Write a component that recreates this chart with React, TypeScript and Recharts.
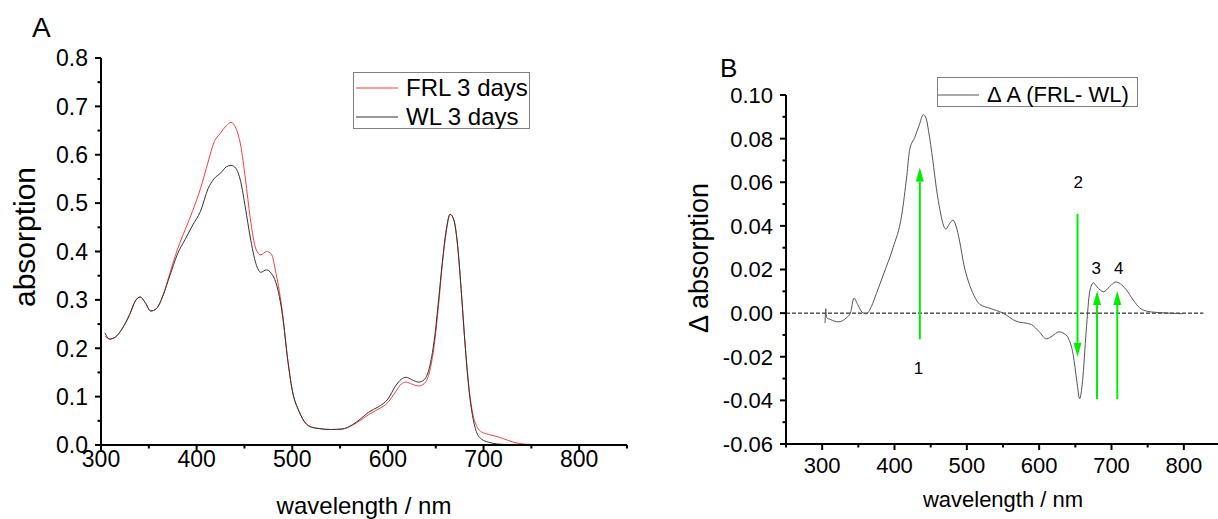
import { Legend, Line, LineChart, ReferenceDot, ReferenceLine, XAxis, YAxis } from "recharts";

const FONT = "'Liberation Sans', Arial, Helvetica, sans-serif";

// panel A: absorption spectra
const wavelengthA = [
  304, 309, 315, 322, 330, 336, 341, 346, 352, 358, 365, 372, 380, 388, 396, 404, 412, 418, 425, 431, 436,
  441, 446, 451, 456, 462, 467, 473, 478, 483, 490, 495, 500, 507, 514, 520, 528, 540, 552, 563, 572, 580,
  590, 600, 608, 614, 619, 625, 632, 638, 644, 649, 653, 657, 661, 665, 669, 673, 677, 681, 685, 689, 693,
  698, 705, 715, 725, 735, 750, 800,
];
const frl3 = [
  0.225, 0.219, 0.223, 0.24, 0.27, 0.298, 0.306, 0.295, 0.277, 0.282, 0.31, 0.355, 0.405, 0.445, 0.485,
  0.53, 0.585, 0.625, 0.645, 0.66, 0.667, 0.655, 0.62, 0.55, 0.47, 0.405, 0.393, 0.4, 0.395, 0.355, 0.27,
  0.18, 0.113, 0.07, 0.045, 0.037, 0.034, 0.032, 0.033, 0.041, 0.052, 0.063, 0.074, 0.088, 0.11, 0.126,
  0.13, 0.126, 0.122, 0.127, 0.155, 0.215, 0.29, 0.375, 0.44, 0.477, 0.465, 0.41, 0.31, 0.2, 0.115, 0.062,
  0.038, 0.027, 0.022, 0.017, 0.01, 0.004, 0.001, 0,
];
const wl3 = [
  0.232, 0.219, 0.223, 0.24, 0.27, 0.298, 0.306, 0.295, 0.277, 0.282, 0.31, 0.35, 0.395, 0.425, 0.455,
  0.483, 0.53, 0.55, 0.562, 0.575, 0.578, 0.572, 0.545, 0.49, 0.43, 0.375, 0.357, 0.362, 0.355, 0.335,
  0.265, 0.18, 0.113, 0.07, 0.045, 0.037, 0.034, 0.032, 0.033, 0.042, 0.055, 0.068, 0.079, 0.095, 0.122,
  0.136, 0.14, 0.135, 0.13, 0.135, 0.165, 0.225, 0.3, 0.38, 0.445, 0.477, 0.465, 0.41, 0.31, 0.2, 0.11,
  0.055, 0.025, 0.012, 0.006, 0.002, 0.001, 0.0005, 0, 0,
];

const ticksAX = [300, 350, 400, 450, 500, 550, 600, 650, 700, 750, 800, 850];
const majorAX = [300, 400, 500, 600, 700, 800];
const ticksAY = [0, 0.05, 0.1, 0.15, 0.2, 0.25, 0.3, 0.35, 0.4, 0.45, 0.5, 0.55, 0.6, 0.65, 0.7, 0.75, 0.8];
const majorAY = [0, 0.1, 0.2, 0.3, 0.4, 0.5, 0.6, 0.7, 0.8];

// panel B: difference spectrum
const wavelengthB = [
  304, 305, 306, 312, 322, 334, 339, 344, 349, 355, 361, 368, 375, 385, 398, 410, 417, 421, 428, 434, 440,
  444, 447, 453, 458, 463, 467, 471, 476, 481, 485, 490, 496, 502, 510, 518, 532, 550, 568, 589, 600, 610,
  618, 627, 635, 640, 647, 652, 656, 660, 665, 670, 675, 680, 689, 697, 706, 712, 720, 730, 739, 750, 760,
  780, 798,
];
const deltaA = [
  -0.0045, 0.002, -0.002, -0.003, -0.004, -0.002, 0, 0.0069, 0.004, 0.0005, -0.0003, 0.003, 0.009, 0.018,
  0.03, 0.045, 0.063, 0.075, 0.0806, 0.086, 0.091, 0.089, 0.0837, 0.07, 0.057, 0.047, 0.041, 0.0385,
  0.041, 0.0426, 0.04, 0.033, 0.022, 0.0147, 0.008, 0.004, 0.0022, 0, -0.0037, -0.0052, -0.0085, -0.0118,
  -0.0105, -0.0086, -0.0095, -0.0113, -0.019, -0.031, -0.0392, -0.031, -0.0083, 0.0101, 0.0139, 0.012,
  0.0098, 0.012, 0.0143, 0.0135, 0.0109, 0.006, 0.0024, 0.0008, 0.0004, 0, -0.0003,
];

const ticksBX = [250, 300, 350, 400, 450, 500, 550, 600, 650, 700, 750, 800, 850];
const majorBX = [300, 400, 500, 600, 700, 800];
const ticksBY = [-0.06, -0.05, -0.04, -0.03, -0.02, -0.01, 0, 0.01, 0.02, 0.03, 0.04, 0.05, 0.06, 0.07, 0.08, 0.09, 0.1];
const majorBY = [-0.06, -0.04, -0.02, 0, 0.02, 0.04, 0.06, 0.08, 0.1];

// green arrows and their numbers
const arrowX = [435, 653, 680, 708];
const arrowFrom = [-0.012, 0.0455, -0.0394, -0.0394];
const arrowTo = [0.0668, -0.02, 0.0101, 0.0101];
const arrowLabel = ["1", "2", "3", "4"];
const arrowLabelX = [433, 654, 679, 710];
const arrowLabelY = [-0.025, 0.06, 0.0207, 0.0207];

const tableA = wavelengthA.map((w, i) => ({ w, frl: frl3[i], wl: wl3[i] }));
const tableB = wavelengthB.map((w, i) => ({ w, d: deltaA[i] }));

const GREEN = "#00ee00";

const xTick = (major: number[], fs: number, gap: number) => (p: any) => {
  const axisY = p.y - 10;
  const v = p.payload.value;
  const isMajor = major.includes(v);
  return (
    <g>
      <line x1={p.x} x2={p.x} y1={axisY} y2={axisY + (isMajor ? 6 : 3.5)} stroke="#000" strokeWidth={2} />
      {isMajor && (
        <text x={p.x} y={axisY + gap} textAnchor="middle" fontSize={fs} fontFamily={FONT} fill="#000">
          {v}
        </text>
      )}
    </g>
  );
};

const yTick = (major: number[], fs: number, digits: number) => (p: any) => {
  const axisX = p.x + 10;
  const v = p.payload.value;
  const isMajor = major.includes(v);
  return (
    <g>
      <line x1={axisX} x2={axisX - (isMajor ? 6 : 3.5)} y1={p.y} y2={p.y} stroke="#000" strokeWidth={2} />
      {isMajor && (
        <text x={axisX - 13} y={p.y + fs * 0.36} textAnchor="end" fontSize={fs} fontFamily={FONT} fill="#000">
          {v.toFixed(digits)}
        </text>
      )}
    </g>
  );
};

const Arrow = (p: any) => {
  const { x1, y1, x2, y2 } = p;
  const dir = y2 < y1 ? 1 : -1;
  const head = 14;
  const by = y2 + dir * head;
  return (
    <g>
      <line x1={x1} y1={y1} x2={x2} y2={by} stroke={GREEN} strokeWidth={2} />
      <polygon points={`${x2},${y2} ${x2 - 4},${by} ${x2 + 4},${by}`} fill={GREEN} />
    </g>
  );
};

const legendA = (props: any) => {
  const items = props.payload || [];
  return (
    <svg width={177} height={57} style={{ display: "block" }}>
      <rect x={0.5} y={0.5} width={176} height={56} fill="#fff" stroke="#808080" />
      {items.map((it: any, i: number) => (
        <g key={it.value}>
          <line x1={3} x2={45} y1={16 + i * 29} y2={16 + i * 29} stroke={it.color} strokeWidth={1} />
          <text x={53} y={24 + i * 29} fontSize={24} fontFamily={FONT} fill="#000">
            {it.value}
          </text>
        </g>
      ))}
    </svg>
  );
};

const legendB = (props: any) => {
  const items = props.payload || [];
  return (
    <svg width={201} height={30} style={{ display: "block" }}>
      <rect x={0.5} y={0.5} width={200} height={29} fill="#fff" stroke="#808080" />
      {items.map((it: any) => (
        <g key={it.value}>
          <line x1={1} x2={42} y1={18} y2={18} stroke={it.color} strokeWidth={1} />
          <text x={50} y={25} fontSize={22} fontFamily={FONT} fill="#000">
            {it.value}
          </text>
        </g>
      ))}
    </svg>
  );
};

export default function App() {
  return (
    <div style={{ position: "absolute", left: 0, top: 0, width: 1218, height: 519, overflow: "hidden", background: "#fff", fontFamily: FONT }}>
      <div style={{ position: "absolute", left: 0, top: 0 }}>
        <LineChart width={640} height={519} data={tableA} margin={{ top: 58, right: 13, bottom: 34, left: 41 }}>
          <XAxis
            dataKey="w"
            type="number"
            domain={[300, 850]}
            ticks={ticksAX}
            interval={0}
            height={40}
            tickSize={6}
            tickMargin={4}
            tickLine={false}
            axisLine={{ stroke: "#000", strokeWidth: 2 }}
            tick={xTick(majorAX, 23, 22)}
          />
          <YAxis
            type="number"
            domain={[0, 0.8]}
            ticks={ticksAY}
            interval={0}
            width={60}
            tickSize={6}
            tickMargin={4}
            tickLine={false}
            axisLine={{ stroke: "#000", strokeWidth: 2 }}
            tick={yTick(majorAY, 23, 1)}
          />
          <Legend layout="horizontal" verticalAlign="middle" wrapperStyle={{ left: 353, top: 72, width: 177, height: 57 }} content={legendA} />
          <Line name="FRL 3 days" dataKey="frl" type="monotone" stroke="#ff3b3b" strokeWidth={1} dot={false} activeDot={false} isAnimationActive={false} />
          <Line name="WL 3 days" dataKey="wl" type="monotone" stroke="#333" strokeWidth={1} dot={false} activeDot={false} isAnimationActive={false} />
        </LineChart>
      </div>

      <div style={{ position: "absolute", left: 660, top: 0 }}>
        <LineChart width={570} height={519} data={tableB} margin={{ top: 95, right: 10, bottom: 35, left: 66 }}>
          <XAxis
            dataKey="w"
            type="number"
            domain={[250, 850]}
            ticks={ticksBX}
            interval={0}
            height={40}
            tickSize={6}
            tickMargin={4}
            tickLine={false}
            axisLine={{ stroke: "#000", strokeWidth: 2 }}
            tick={xTick(majorBX, 22, 29)}
          />
          <YAxis
            type="number"
            domain={[-0.06, 0.1]}
            ticks={ticksBY}
            interval={0}
            width={60}
            tickSize={6}
            tickMargin={4}
            tickLine={false}
            axisLine={{ stroke: "#000", strokeWidth: 2 }}
            tick={yTick(majorBY, 22, 2)}
          />
          <ReferenceLine
            segment={[{ x: 250, y: 0 }, { x: 827, y: 0 }]}
            stroke="#000"
            strokeWidth={1}
            strokeDasharray="4 2"
            ifOverflow="visible"
          />
          <Legend layout="horizontal" verticalAlign="middle" wrapperStyle={{ left: 277, top: 77, width: 201, height: 30 }} content={legendB} />
          <Line name="Δ A (FRL- WL)" dataKey="d" type="monotone" stroke="#555" strokeWidth={1} dot={false} activeDot={false} isAnimationActive={false} />
          {arrowX.map((x, i) => (
            <ReferenceLine
              key={"arrow" + i}
              segment={[{ x, y: arrowFrom[i] }, { x, y: arrowTo[i] }]}
              ifOverflow="visible"
              shape={Arrow}
            />
          ))}
          {arrowLabel.map((t, i) => (
            <ReferenceDot
              key={"lab" + i}
              x={arrowLabelX[i]}
              y={arrowLabelY[i]}
              r={0}
              ifOverflow="visible"
              shape={(p: any) => (
                <text x={p.cx} y={p.cy + 6} textAnchor="middle" fontSize={17} fontFamily={FONT} fill="#000">
                  {t}
                </text>
              )}
            />
          ))}
        </LineChart>
      </div>

      <svg width={1218} height={519} style={{ position: "absolute", left: 0, top: 0, pointerEvents: "none" }}>
        <text x={32} y={37} fontSize={28} fontFamily={FONT}>A</text>
        <text transform="translate(35,237) rotate(-90)" textAnchor="middle" fontSize={30} fontFamily={FONT}>absorption</text>
        <text x={364} y={514} textAnchor="middle" fontSize={24} fontFamily={FONT}>wavelength / nm</text>
        <text x={720} y={77} fontSize={26} fontFamily={FONT}>B</text>
        <text transform="translate(708,258) rotate(-90)" textAnchor="middle" fontSize={27} fontFamily={FONT}>Δ absorption</text>
        <text x={1003} y={507} textAnchor="middle" fontSize={22} fontFamily={FONT}>wavelength / nm</text>
      </svg>
    </div>
  );
}
